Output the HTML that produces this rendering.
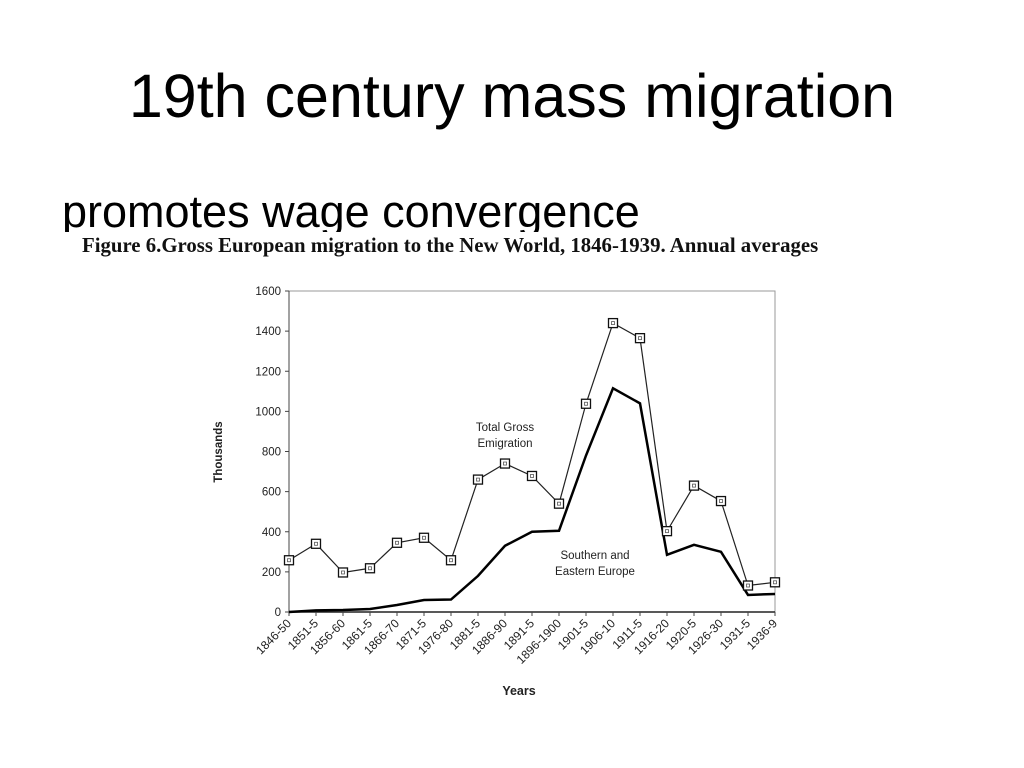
<!DOCTYPE html>
<html><head><meta charset="utf-8"><style>
body{margin:0;width:1024px;height:768px;background:#fff;position:relative;overflow:hidden;font-family:"Liberation Sans",sans-serif}
#title{position:absolute;left:0;width:1024px;top:66px;text-align:center;font-size:61px;line-height:61px;color:#000;white-space:nowrap}
#sub{position:absolute;left:62px;top:189px;font-size:45px;line-height:45px;color:#000;white-space:nowrap}
#fig{position:absolute;left:60px;top:232px;width:780px;height:480px;background:#fff}
#cap{position:absolute;left:82px;top:235px;font-family:"Liberation Serif",serif;font-weight:bold;font-size:20.8px;line-height:21px;color:#111;white-space:nowrap}
svg{position:absolute;left:0;top:0}
</style></head><body>
<div id="title">19th century mass migration</div>
<div id="sub">promotes wage convergence</div>
<div id="fig"></div>
<div id="cap">Figure 6.Gross European migration to the New World, 1846-1939. Annual averages</div>
<svg id="chart" width="1024" height="768"></svg>
<script>
const categories=["1846-50","1851-5","1856-60","1861-5","1866-70","1871-5","1976-80","1881-5","1886-90","1891-5","1896-1900","1901-5","1906-10","1911-5","1916-20","1920-5","1926-30","1931-5","1936-9"];
const totalValues=[258,340,197,218,345,370,258,660,740,678,540,1038,1440,1365,403,630,553,132,148];
const southValues=[0,8,10,15,35,60,62,180,330,400,405,780,1115,1040,285,335,300,85,90];
const yTicks=[0,200,400,600,800,1000,1200,1400,1600];
const X0=289,X1=775,Y0=612,Y1=291;
const xs=i=>X0+(X1-X0)*i/(categories.length-1);
const ys=v=>Y0-(Y0-Y1)*v/1600;
const svg=document.getElementById('chart');const NS="http://www.w3.org/2000/svg";
function mk(t,a,p){const e=document.createElementNS(NS,t);for(const k in a)e.setAttribute(k,a[k]);(p||svg).appendChild(e);return e;}
const frame=mk('rect',{x:X0,y:Y1,width:X1-X0,height:Y0-Y1,fill:'none',stroke:'#999','stroke-width':1});


const xa=mk('line',{x1:X0,y1:Y0,x2:X1,y2:Y0,stroke:'#222','stroke-width':1.5});


const ya=mk('line',{x1:X0,y1:Y0,x2:X0,y2:Y1,stroke:'#444','stroke-width':1});


yTicks.forEach(v=>{
 const tk=mk('line',{x1:X0-4,y1:ys(v),x2:X0,y2:ys(v),stroke:'#444'});
 
 
 const t=mk('text',{x:X0-8,y:ys(v)+4,'text-anchor':'end','font-size':11.5,fill:'#222'});t.textContent=v;
 
 
});
categories.forEach((c,i)=>{
 const tk=mk('line',{x1:xs(i),y1:Y0,x2:xs(i),y2:Y0+4,stroke:'#444'});
 
 
 const t=mk('text',{x:xs(i)+3,y:Y0+12,'text-anchor':'end','font-size':12,fill:'#222',transform:`rotate(-45 ${xs(i)+3} ${Y0+12})`});t.textContent=c;
 
 
});
const sl=mk('polyline',{points:southValues.map((v,i)=>xs(i)+','+ys(v)).join(' '),fill:'none',stroke:'#000','stroke-width':2.5});


const tl=mk('polyline',{points:totalValues.map((v,i)=>xs(i)+','+ys(v)).join(' '),fill:'none',stroke:'#222','stroke-width':1.2});


totalValues.forEach((v,i)=>{
 const r=mk('rect',{x:xs(i)-4.5,y:ys(v)-4.5,width:9,height:9,fill:'#fff',stroke:'#111','stroke-width':1.3});
 
 
 const r2=mk('rect',{x:xs(i)-1.5,y:ys(v)-1.5,width:3,height:3,fill:'none',stroke:'#555','stroke-width':0.8});
 
 
});
function lbl(x,y,s,name,extra){const t=mk('text',Object.assign({x:x,y:y,'font-size':11.5,fill:'#222','text-anchor':'middle'},extra||{}));t.textContent=s;
 
 }
lbl(505,431,'Total Gross','total-series-label');
lbl(505,447,'Emigration','total-series-label');
lbl(595,559,'Southern and','south-series-label');
lbl(595,575,'Eastern Europe','south-series-label');
lbl(519,695,'Years','x-axis-title',{'font-weight':'bold','font-size':12.5});
lbl(222,452,'Thousands','y-axis-title',{'font-weight':'bold','font-size':11.5,transform:'rotate(-90 222 452)'});
</script>
</body></html>
